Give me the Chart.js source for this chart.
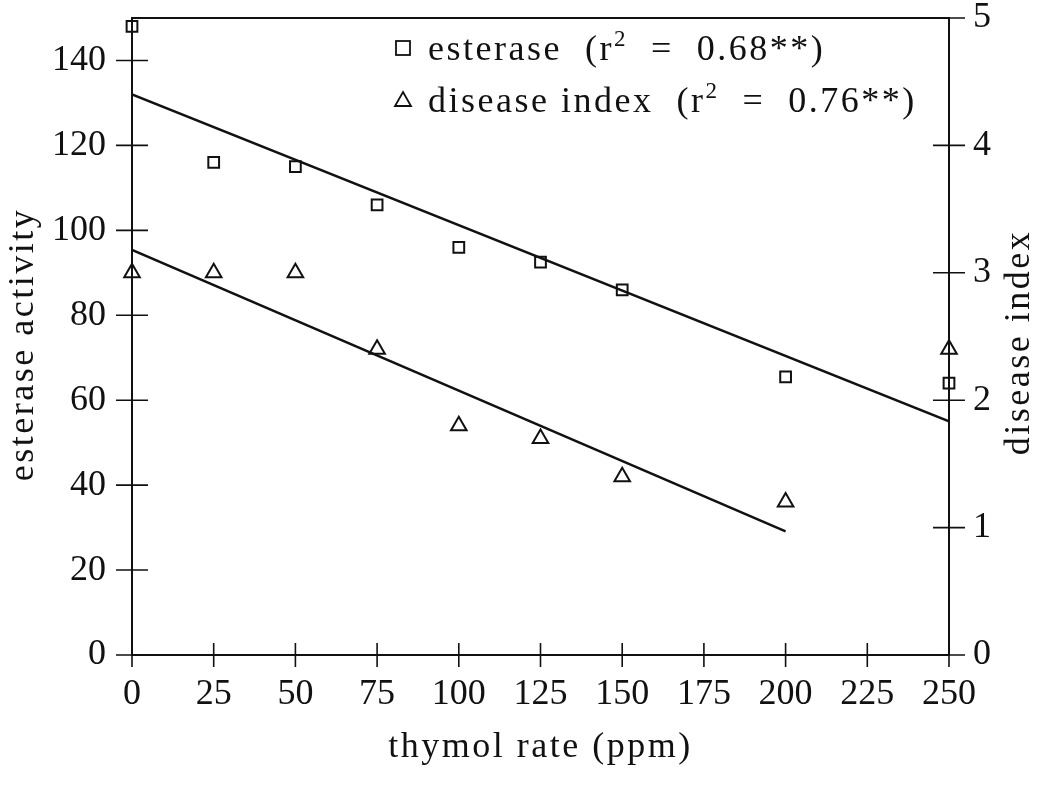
<!DOCTYPE html>
<html>
<head>
<meta charset="utf-8">
<script src="https://cdn.jsdelivr.net/npm/chart.js@4.4.1/dist/chart.umd.min.js"></script>
<style>
  html, body { margin: 0; padding: 0; background: #fff; }
  #wrap { width: 1045px; height: 786px; position: relative; }
</style>
</head>
<body>
<div id="wrap"><canvas id="chart"></canvas></div>
<script>
// ── Data ───────────────────────────────────────────────
const thymolRate = [0, 25, 50, 75, 100, 125, 150, 200, 250];
const esteraseActivity = [148, 116, 115, 106, 96, 92.5, 86, 65.5, 64];
const diseaseIndex = [3.0, 3.0, 3.0, 2.4, 1.8, 1.7, 1.4, 1.2, 2.4];

// regression lines, end points
const esteraseFitX = [0, 250];
const esteraseFitY = [132, 55];
const diseaseFitX = [0, 200];
const diseaseFitY = [3.18, 0.97];

// tick labels
const xTicks = [0, 25, 50, 75, 100, 125, 150, 175, 200, 225, 250];
const leftTicks = [0, 20, 40, 60, 80, 100, 120, 140];
const rightTicks = [0, 1, 2, 3, 4, 5];

// titles + legend
const xTitle = "thymol rate (ppm)";
const leftTitle = "esterase activity";
const rightTitle = "disease index";
const legendNames = ["esterase", "disease index"];
const legendR2 = ["0.68**", "0.76**"];

const FONT = "'Liberation Serif', 'Times New Roman', serif";
const INK = "#111";
const SPACING = "2.5px";

const toPoints = (xs, ys) => xs.map((x, i) => ({ x: x, y: ys[i] }));
const setTicks = (vals) => (scale) => { scale.ticks = vals.map((v) => ({ value: v })); };
const fitSide = (w) => (s) => { s.width = w; s.paddingTop = 18; s.paddingBottom = 0; };

// ── Frame, crossing tick marks, titles, legend ──────────
const framePlugin = {
  id: "frame",
  beforeDatasetsDraw(chart) {
    const { ctx, chartArea: a, scales } = chart;
    ctx.save();
    ctx.strokeStyle = INK;
    ctx.lineWidth = 2;
    ctx.strokeRect(a.left, a.top, a.right - a.left, a.bottom - a.top);
    ctx.lineWidth = 1.6;
    ctx.beginPath();
    scales.x.ticks.forEach((t) => {
      const px = scales.x.getPixelForValue(t.value);
      ctx.moveTo(px, a.bottom - 12);
      ctx.lineTo(px, a.bottom + 12);
    });
    scales.y.ticks.forEach((t) => {
      const py = scales.y.getPixelForValue(t.value);
      ctx.moveTo(a.left - 16, py);
      ctx.lineTo(a.left + 16, py);
    });
    scales.y2.ticks.forEach((t) => {
      const py = scales.y2.getPixelForValue(t.value);
      ctx.moveTo(a.right - 16, py);
      ctx.lineTo(a.right + 16, py);
    });
    ctx.stroke();
    ctx.restore();
  },
  afterDraw(chart) {
    const { ctx, chartArea: a } = chart;
    const midY = (a.top + a.bottom) / 2;
    ctx.save();
    ctx.fillStyle = INK;
    ctx.strokeStyle = INK;
    ctx.letterSpacing = SPACING;
    ctx.font = "36px " + FONT;
    ctx.textAlign = "center";
    ctx.textBaseline = "middle";

    // axis titles (both side titles read bottom to top)
    ctx.fillText(xTitle, (a.left + a.right) / 2, 748);
    ctx.translate(24, midY + 8);
    ctx.rotate(-Math.PI / 2);
    ctx.fillText(leftTitle, 0, 0);
    ctx.setTransform(1, 0, 0, 1, 0, 0);
    ctx.translate(1020, midY + 6);
    ctx.rotate(-Math.PI / 2);
    ctx.fillText(rightTitle, 0, 0);
    ctx.setTransform(1, 0, 0, 1, 0, 0);

    // legend
    const lx = 403, tx = 428, rows = [48, 100];
    ctx.textAlign = "left";
    ctx.textBaseline = "alphabetic";
    ctx.lineWidth = 1.8;
    rows.forEach((cy, i) => {
      if (i === 0) {
        ctx.strokeRect(lx - 7, cy - 7, 14, 14);
      } else {
        ctx.beginPath();
        ctx.moveTo(lx, cy - 8);
        ctx.lineTo(lx + 8, cy + 6);
        ctx.lineTo(lx - 8, cy + 6);
        ctx.closePath();
        ctx.stroke();
      }
      const base = cy + 12;
      let x = tx;
      ctx.font = "36px " + FONT;
      const head = legendNames[i] + "  (r";
      ctx.fillText(head, x, base);
      x += ctx.measureText(head).width;
      ctx.font = "23px " + FONT;
      ctx.fillText("2", x, base - 14);
      x += ctx.measureText("2").width;
      ctx.font = "36px " + FONT;
      ctx.fillText("  =  " + legendR2[i] + ")", x, base);
    });
    ctx.restore();
  }
};

const tickFont = { family: FONT, size: 36, lineHeight: 1 };

new Chart(document.getElementById("chart"), {
  data: {
    datasets: [
      {
        type: "line",
        data: toPoints(esteraseFitX, esteraseFitY),
        yAxisID: "y",
        borderColor: INK,
        borderWidth: 2.5,
        pointRadius: 0,
        order: 3
      },
      {
        type: "line",
        data: toPoints(diseaseFitX, diseaseFitY),
        yAxisID: "y2",
        borderColor: INK,
        borderWidth: 2.5,
        pointRadius: 0,
        order: 4
      },
      {
        type: "scatter",
        label: legendNames[0],
        data: toPoints(thymolRate, esteraseActivity),
        yAxisID: "y",
        pointStyle: "rect",
        pointRadius: 7.6,
        pointBorderWidth: 2,
        pointBorderColor: INK,
        pointBackgroundColor: "rgba(0,0,0,0)",
        clip: false,
        order: 1
      },
      {
        type: "scatter",
        label: legendNames[1],
        data: toPoints(thymolRate, diseaseIndex),
        yAxisID: "y2",
        pointStyle: "triangle",
        pointRadius: 9,
        pointBorderWidth: 2,
        pointBorderColor: INK,
        pointBackgroundColor: "rgba(0,0,0,0)",
        clip: false,
        order: 2
      }
    ]
  },
  options: {
    responsive: true,
    maintainAspectRatio: false,
    animation: false,
    layout: { padding: 0 },
    plugins: { legend: { display: false }, tooltip: { enabled: false } },
    scales: {
      x: {
        type: "linear",
        min: 0,
        max: 250,
        afterBuildTicks: setTicks(xTicks),
        afterFit: (s) => { s.height = 131; },
        grid: { display: false, tickLength: 12 },
        border: { display: false },
        ticks: { color: INK, padding: 6, font: { family: FONT, size: 36 } }
      },
      y: {
        type: "linear",
        position: "left",
        min: 0,
        max: 150,
        afterBuildTicks: setTicks(leftTicks),
        afterFit: fitSide(132),
        grid: { display: false, tickLength: 16 },
        border: { display: false },
        ticks: { color: INK, padding: 10, font: tickFont }
      },
      y2: {
        type: "linear",
        position: "right",
        min: 0,
        max: 5,
        afterBuildTicks: setTicks(rightTicks),
        afterFit: fitSide(96),
        grid: { display: false, tickLength: 16 },
        border: { display: false },
        ticks: { color: INK, padding: 8, font: tickFont }
      }
    }
  },
  plugins: [framePlugin]
});
</script>
</body>
</html>
